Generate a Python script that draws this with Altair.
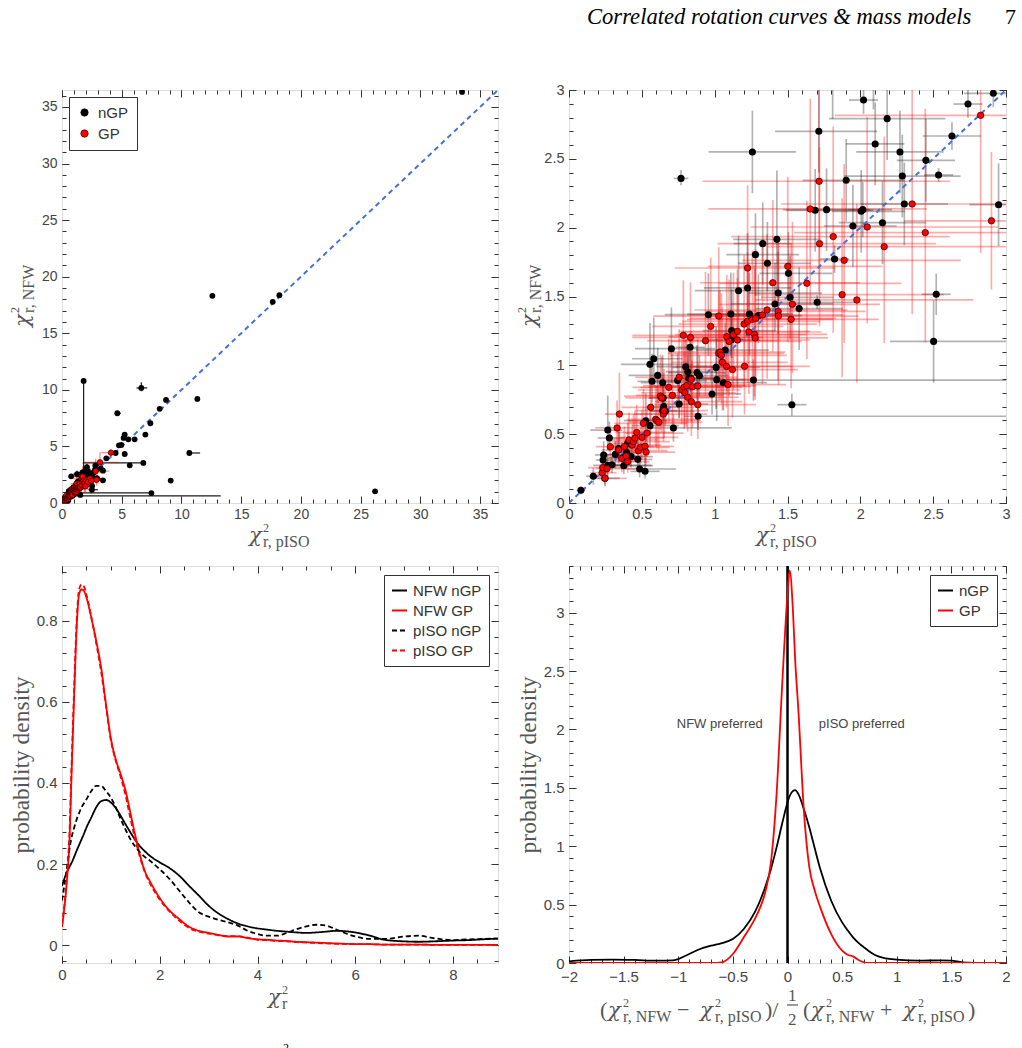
import altair as alt
import pandas as pd

# ------------------------------------------------------------------
# Reduced chi^2 of pISO (x) and NFW (y) fits, nGP galaxies
# errors are given as lower / upper offsets
# ------------------------------------------------------------------
NGP_X = [0.082, 0.167, 0.266, 0.277, 0.238, 0.234, 0.247, 0.266, 0.295, 0.318,
         0.341, 0.371, 0.376, 0.396, 0.403, 0.426, 0.472, 0.485, 0.522, 0.527,
         0.556, 0.556, 0.570, 0.582, 0.609, 0.643, 0.646, 0.650, 0.643, 0.662,
         0.703, 0.717, 0.746, 0.756, 0.769, 0.801, 0.815, 0.822, 0.831, 0.836,
         0.886, 0.879, 0.895, 0.957, 0.982, 1.010, 1.014, 1.060, 1.072, 1.111,
         1.117, 1.113, 1.164, 1.226, 1.239, 1.259, 1.266, 1.280, 1.300, 1.330,
         1.362, 1.414, 1.427, 1.436, 1.507, 1.518, 1.530, 1.580, 1.690, 1.704,
         1.715, 1.768, 1.823, 1.903, 1.949, 2.006, 2.017, 2.022, 2.102, 2.152,
         2.184, 2.272, 2.288, 2.302, 2.450, 2.503, 2.521, 2.537, 2.629, 2.739,
         2.913, 2.949,
         2.09, 2.79, 3.43, 3.43, 3.71, 3.25, 4.49, 4.77, 4.97, 5.16,
         5.25, 5.25, 5.55, 6.08, 5.67, 6.81, 6.98, 7.40, 7.48, 4.63,
         8.18, 8.71, 9.10, 6.64, 1.81, 10.66, 11.33, 12.59, 17.64, 18.20,
         26.21, 33.49]
NGP_Y = [0.092, 0.194, 0.530, 0.472, 0.349, 0.312, 0.179, 0.274, 0.278, 0.353,
         0.395, 0.329, 0.271, 0.366, 0.433, 0.337, 0.317, 0.247, 0.230, 0.598,
         0.562, 1.007, 0.884, 1.048, 0.927, 0.874, 0.763, 0.700, 0.671, 0.666,
         1.121, 0.545, 0.889, 0.719, 2.358, 0.990, 0.954, 0.906, 1.131, 0.906,
         0.630, 0.947, 0.925, 1.368, 0.792, 0.985, 0.896, 0.874, 1.111, 1.373,
         1.252, 1.184, 1.542, 1.562, 1.373, 2.550, 0.893, 1.804, 1.361, 1.884,
         1.741, 1.446, 1.915, 1.525, 1.668, 1.494, 0.714, 1.412, 2.126, 1.458,
         2.700, 2.131, 1.772, 2.344, 2.012, 2.119, 2.131, 2.927, 2.608, 2.036,
         2.792, 2.550, 2.375, 2.172, 2.489, 1.174, 1.516, 2.383, 2.666, 2.898,
         2.976, 2.167,
         3.16, 3.30, 2.86, 2.00, 3.95, 3.05, 4.42, 5.10, 5.13, 5.75,
         6.05, 4.33, 5.63, 5.63, 3.33, 3.54, 6.05, 7.05, 0.88, 7.93,
         8.32, 9.11, 1.98, 10.17, 10.79, 4.42, 9.20, 18.31, 17.78, 18.37,
         1.03, 36.33]
NGP_XLO = [0.03, 0.05, 0.12, 0.08, 0.06, 0.05, 0.05, 0.10, 0.06, 0.10,
           0.08, 0.10, 0.06, 0.08, 0.10, 0.06, 0.10, 0.08, 0.10, 0.15,
           0.12, 0.20, 0.10, 0.15, 0.20, 0.15, 0.10, 0.10, 0.08, 0.10,
           0.25, 0.15, 0.15, 0.10, 0.05, 0.20, 0.15, 0.10, 0.10, 0.10,
           0.10, 0.20, 0.15, 0.30, 0.20, 0.30, 0.20, 0.20, 0.20, 0.30,
           0.20, 0.15, 0.30, 0.30, 0.30, 0.30, 0.20, 0.20, 0.20, 0.20,
           0.20, 0.30, 0.30, 0.20, 0.20, 0.20, 0.10, 0.30, 0.20, 0.30,
           0.30, 0.30, 0.10, 0.30, 0.20, 0.20, 0.10, 0.10, 0.20, 0.30,
           0.40, 0.30, 0.40, 0.30, 0.20, 0.30, 0.10, 0.10, 0.20, 0.10,
           0.20, 0.20,
           0.2, 0.2, 0.2, 0.2, 0.2, 0.2, 0.1, 0.1, 0.1, 0.1,
           0.1, 0.1, 0.1, 0.1, 0.1, 5.08, 0.1, 0.1, 0.1, 0.2,
           0.1, 0.1, 0.1, 0.4, 0.05, 0.05, 0.1, 0.2, 0.1, 0.1,
           0.2, 0.1]
NGP_XHI = [0.03, 0.08, 0.10, 0.10, 0.20, 0.10, 0.10, 0.30, 0.10, 0.12,
           0.15, 0.12, 0.20, 0.10, 0.10, 0.15, 0.10, 0.25, 0.10, 0.15,
           0.20, 0.30, 0.20, 0.20, 0.25, 0.20, 0.15, 0.10, 0.10, 0.20,
           0.30, 0.40, 0.20, 0.20, 0.05, 0.20, 0.20, 0.20, 0.10, 0.15,
           12.40, 0.20, 0.20, 0.30, 0.20, 0.30, 0.20, 0.30, 0.30, 0.40,
           0.30, 0.20, 0.30, 0.30, 0.30, 0.30, 6.20, 0.30, 0.30, 0.20,
           0.30, 0.40, 0.30, 0.30, 0.30, 0.30, 0.10, 0.30, 0.40, 0.30,
           0.40, 0.30, 0.10, 0.40, 0.30, 0.30, 0.20, 0.10, 0.20, 0.30,
           0.40, 0.30, 0.40, 0.30, 0.20, 0.50, 0.10, 0.10, 0.20, 0.10,
           0.20, 0.30,
           0.2, 0.3, 0.2, 0.2, 0.2, 0.2, 0.1, 0.1, 0.1, 0.1,
           0.1, 0.1, 0.1, 0.1, 0.1, 0.1, 0.1, 0.1, 0.1, 0.3,
           0.1, 0.1, 0.1, 0.5, 0.05, 0.9, 0.1, 0.2, 0.1, 0.1,
           0.2, 0.1]
NGP_YLO = [0.03, 0.06, 0.15, 0.10, 0.08, 0.08, 0.05, 0.08, 0.06, 0.10,
           0.10, 0.08, 0.06, 0.10, 0.10, 0.08, 0.08, 0.06, 0.05, 0.15,
           0.15, 0.25, 0.20, 0.20, 0.20, 0.15, 0.10, 0.10, 0.10, 0.10,
           0.25, 0.10, 0.20, 0.10, 0.05, 0.20, 0.15, 0.10, 0.10, 0.10,
           0.10, 0.20, 0.15, 0.30, 0.15, 0.30, 0.30, 0.20, 0.20, 0.30,
           0.20, 0.20, 0.30, 0.30, 0.30, 0.30, 0.15, 0.30, 0.20, 0.30,
           0.20, 0.20, 0.40, 0.30, 0.20, 0.30, 0.08, 0.30, 0.30, 0.05,
           0.30, 0.30, 0.10, 0.30, 0.30, 0.30, 0.20, 0.10, 0.30, 0.30,
           0.30, 0.30, 0.30, 0.30, 0.30, 0.30, 0.15, 0.05, 0.10, 0.10,
           0.10, 0.30,
           0.3, 0.3, 0.2, 0.2, 0.2, 0.2, 0.1, 0.1, 0.1, 0.1,
           0.1, 0.1, 0.1, 0.1, 0.1, 0.1, 0.1, 0.1, 0.1, 0.1,
           0.1, 0.1, 0.1, 0.3, 8.0, 0.05, 0.1, 0.1, 0.1, 0.1,
           0.1, 0.1]
NGP_YHI = [0.03, 0.06, 0.25, 0.12, 0.10, 0.08, 0.05, 0.08, 0.06, 0.10,
           0.12, 0.10, 0.08, 0.10, 0.15, 0.10, 0.15, 0.08, 0.10, 0.20,
           0.15, 0.30, 0.20, 0.30, 0.20, 0.20, 0.15, 0.10, 0.10, 0.15,
           0.30, 0.10, 0.20, 0.15, 0.06, 0.20, 0.20, 0.20, 0.10, 0.10,
           0.10, 0.20, 0.15, 0.30, 0.20, 0.30, 0.30, 0.20, 0.20, 0.30,
           0.30, 0.20, 0.40, 0.40, 0.30, 0.30, 0.15, 0.30, 0.30, 0.30,
           0.30, 0.30, 0.50, 0.30, 0.30, 0.30, 0.08, 0.30, 0.30, 0.05,
           0.30, 0.30, 0.10, 0.30, 0.30, 0.30, 0.20, 0.20, 0.30, 0.30,
           0.30, 0.30, 0.30, 0.30, 0.30, 0.30, 0.15, 0.05, 0.10, 0.20,
           0.10, 0.30,
           0.3, 0.3, 0.2, 0.2, 0.2, 0.2, 0.1, 0.1, 0.1, 0.1,
           0.1, 0.1, 0.1, 0.1, 0.1, 0.1, 0.1, 0.1, 0.1, 0.1,
           0.1, 0.1, 0.1, 0.5, 0.05, 0.05, 0.1, 0.1, 0.1, 0.1,
           0.1, 0.1]

# ------------------------------------------------------------------
# Same quantities for the GP galaxies
# ------------------------------------------------------------------
GP_X = [0.227, 0.231, 0.247, 0.261, 0.284, 0.330, 0.346, 0.341, 0.362, 0.380,
        0.392, 0.403, 0.412, 0.433, 0.442, 0.453, 0.465, 0.476, 0.492, 0.501,
        0.511, 0.522, 0.529, 0.536, 0.561, 0.595, 0.604, 0.616, 0.627, 0.636,
        0.648, 0.653, 0.685, 0.710, 0.756, 0.774, 0.785, 0.790, 0.795, 0.808,
        0.815, 0.834, 0.840, 0.840, 0.847, 0.884, 0.884, 0.937, 0.973, 1.028,
        1.028, 1.037, 1.046, 1.053, 1.081, 1.092, 1.083, 1.099, 1.122, 1.129,
        1.156, 1.156, 1.202, 1.205, 1.226, 1.226, 1.235, 1.259, 1.273, 1.278,
        1.282, 1.328, 1.360, 1.399, 1.436, 1.438, 1.502, 1.525, 1.534, 1.633,
        1.656, 1.717, 1.720, 1.814, 1.875, 1.889, 1.976, 2.047, 2.164, 2.356,
        2.446, 2.826, 3.18, 4.10, 2.90]
GP_Y = [0.220, 0.257, 0.179, 0.249, 0.409, 0.545, 0.646, 0.385, 0.324, 0.409,
        0.341, 0.300, 0.458, 0.421, 0.446, 0.472, 0.513, 0.380, 0.404, 0.477,
        0.579, 0.412, 0.370, 0.508, 0.695, 0.608, 0.598, 0.586, 0.777, 0.763,
        0.646, 0.671, 0.840, 0.782, 0.913, 0.821, 1.218, 0.840, 0.801, 0.852,
        0.768, 1.203, 0.898, 0.736, 0.845, 0.850, 0.714, 1.179, 1.283, 1.358,
        1.087, 1.097, 1.073, 1.022, 0.993, 0.860, 1.208, 1.174, 0.969, 1.223,
        1.247, 1.184, 1.300, 0.993, 1.707, 1.320, 1.242, 1.334, 1.225, 1.199,
        1.341, 1.366, 1.402, 1.600, 1.392, 1.358, 1.719, 1.334, 1.443, 1.596,
        2.136, 2.337, 1.884, 1.935, 1.513, 1.763, 1.475, 2.005, 1.862, 2.172,
        1.964, 2.816, 3.60, 4.45, 2.05]
GP_XLO = [0.08, 0.10, 0.06, 0.08, 0.10, 0.15, 0.10, 0.10, 0.10, 0.12,
          0.10, 0.10, 0.15, 0.12, 0.15, 0.15, 0.15, 0.12, 0.15, 0.15,
          0.20, 0.15, 0.12, 0.15, 0.20, 0.20, 0.20, 0.20, 0.25, 0.25,
          0.20, 0.20, 0.25, 0.25, 0.30, 0.30, 0.35, 0.30, 0.30, 0.30,
          0.25, 0.40, 0.30, 0.25, 0.30, 0.30, 0.30, 0.40, 0.40, 0.45,
          0.35, 0.35, 0.35, 0.35, 0.35, 0.30, 0.40, 0.40, 0.35, 0.40,
          0.40, 0.40, 0.45, 0.40, 0.50, 0.45, 0.45, 0.45, 0.45, 0.45,
          0.45, 0.50, 0.50, 0.50, 0.50, 0.50, 0.55, 0.50, 0.50, 0.60,
          0.70, 0.80, 0.70, 0.70, 0.60, 0.70, 0.70, 0.80, 0.80, 0.90,
          0.90, 1.00, 1.40, 0.80, 0.60]
GP_XHI = [0.10, 0.15, 0.15, 0.20, 0.20, 0.25, 0.30, 0.20, 0.15, 0.20,
          0.15, 0.15, 0.20, 0.20, 0.25, 0.20, 0.25, 0.20, 0.20, 0.25,
          0.30, 0.20, 0.20, 0.25, 0.30, 0.30, 0.30, 0.30, 0.35, 0.35,
          0.30, 0.30, 0.35, 0.35, 0.40, 0.40, 0.40, 0.40, 0.35, 0.40,
          0.35, 0.50, 0.40, 0.35, 0.40, 0.40, 0.40, 0.50, 0.50, 0.50,
          0.45, 0.45, 0.45, 0.45, 0.45, 0.40, 0.50, 0.50, 0.45, 0.50,
          0.50, 0.50, 0.50, 0.45, 0.60, 0.50, 0.50, 0.55, 0.50, 0.50,
          0.55, 0.55, 0.55, 0.60, 0.60, 0.55, 0.65, 0.60, 0.60, 0.65,
          0.80, 0.90, 0.80, 0.80, 0.70, 0.80, 0.80, 0.90, 0.90, 1.00,
          1.00, 1.10, 1.60, 0.30, 0.80]
GP_YLO = [0.06, 0.08, 0.06, 0.08, 0.12, 0.15, 0.20, 0.10, 0.10, 0.12,
          0.10, 0.08, 0.15, 0.12, 0.15, 0.15, 0.15, 0.10, 0.12, 0.15,
          0.20, 0.12, 0.10, 0.15, 0.20, 0.20, 0.20, 0.20, 0.25, 0.25,
          0.20, 0.20, 0.25, 0.25, 0.30, 0.25, 0.35, 0.30, 0.25, 0.30,
          0.25, 0.40, 0.30, 0.25, 0.30, 0.30, 0.25, 0.40, 0.40, 0.45,
          0.35, 0.35, 0.35, 0.35, 0.30, 0.30, 0.40, 0.40, 0.35, 0.40,
          0.40, 0.40, 0.45, 0.35, 0.50, 0.45, 0.45, 0.45, 0.45, 0.45,
          0.45, 0.50, 0.50, 0.50, 0.50, 0.50, 0.55, 0.50, 0.50, 0.55,
          0.70, 0.80, 0.60, 0.70, 0.60, 0.60, 0.60, 0.70, 0.70, 0.80,
          0.80, 1.00, 1.00, 0.30, 0.50]
GP_YHI = [0.08, 0.10, 0.06, 0.10, 0.15, 0.20, 0.30, 0.15, 0.12, 0.15,
          0.12, 0.10, 0.20, 0.15, 0.20, 0.20, 0.20, 0.15, 0.15, 0.20,
          0.25, 0.15, 0.15, 0.20, 0.30, 0.25, 0.25, 0.25, 0.30, 0.30,
          0.30, 0.30, 0.35, 0.30, 0.35, 0.35, 0.40, 0.35, 0.30, 0.35,
          0.30, 0.40, 0.35, 0.30, 0.35, 0.35, 0.30, 0.50, 0.50, 0.50,
          0.45, 0.45, 0.45, 0.40, 0.40, 0.35, 0.45, 0.45, 0.40, 0.45,
          0.45, 0.45, 0.50, 0.40, 0.60, 0.50, 0.50, 0.50, 0.50, 0.50,
          0.50, 0.55, 0.55, 0.60, 0.55, 0.55, 0.65, 0.55, 0.60, 0.60,
          0.80, 0.90, 0.70, 0.80, 0.70, 0.70, 0.70, 0.80, 0.80, 0.90,
          0.90, 1.10, 0.90, 0.30, 0.50]

# ------------------------------------------------------------------
# Probability densities of chi^2_r
# ------------------------------------------------------------------
DENS_X = [0, 0.1, 0.15, 0.2, 0.25, 0.3, 0.35, 0.4, 0.45, 0.5, 0.6, 0.7, 0.8, 0.9,
          1.0, 1.1, 1.2, 1.3, 1.4, 1.5, 1.6, 1.7, 1.8, 2.0, 2.2, 2.4, 2.6, 2.8,
          3.0, 3.2, 3.4, 3.6, 3.8, 4.0, 4.2, 4.4, 4.6, 4.8, 5.0, 5.2, 5.4, 5.6,
          5.8, 6.0, 6.3, 6.6, 7.0, 7.3, 7.6, 8.0, 8.3, 8.6, 8.92]
DENS_NFW_NGP = [0.146, 0.18, 0.192, 0.204, 0.218, 0.233, 0.247, 0.261, 0.275, 0.29,
                0.315, 0.34, 0.355, 0.358, 0.352, 0.338, 0.319, 0.298, 0.278, 0.259,
                0.243, 0.231, 0.220, 0.204, 0.19, 0.171, 0.146, 0.122, 0.097, 0.078,
                0.064, 0.053, 0.046, 0.041, 0.038, 0.035, 0.033, 0.031, 0.030, 0.031,
                0.033, 0.035, 0.034, 0.031, 0.023, 0.013, 0.009, 0.008, 0.009, 0.011,
                0.012, 0.014, 0.016]
DENS_NFW_GP = [0.044, 0.159, 0.249, 0.438, 0.619, 0.784, 0.866, 0.878, 0.874, 0.858,
               0.808, 0.751, 0.685, 0.594, 0.51, 0.458, 0.422, 0.381, 0.326, 0.27,
               0.22, 0.181, 0.157, 0.116, 0.085, 0.064, 0.045, 0.035, 0.030, 0.025,
               0.021, 0.021, 0.017, 0.014, 0.013, 0.011, 0.010, 0.008, 0.007, 0.006,
               0.005, 0.004, 0.003, 0.002, 0.002, 0.001, 0.001, 0.001, 0.0005, 0.0005,
               0.0003, 0.0003, 0.0003]
DENS_PISO_NGP = [0.11, 0.19, 0.235, 0.268, 0.29, 0.31, 0.326, 0.34, 0.35, 0.36,
                 0.38, 0.393, 0.393, 0.38, 0.364, 0.34, 0.311, 0.285, 0.261, 0.243,
                 0.228, 0.217, 0.208, 0.187, 0.163, 0.134, 0.105, 0.081, 0.07, 0.062,
                 0.056, 0.048, 0.035, 0.027, 0.023, 0.023, 0.030, 0.039, 0.046, 0.050,
                 0.048, 0.039, 0.029, 0.021, 0.015, 0.015, 0.021, 0.023, 0.017, 0.012,
                 0.014, 0.015, 0.016]
DENS_PISO_GP = [0.05, 0.17, 0.27, 0.46, 0.64, 0.80, 0.878, 0.89, 0.885, 0.865,
                0.81, 0.745, 0.675, 0.59, 0.505, 0.455, 0.415, 0.37, 0.312, 0.26,
                0.215, 0.178, 0.152, 0.112, 0.083, 0.06, 0.042, 0.033, 0.028, 0.024,
                0.022, 0.022, 0.018, 0.013, 0.012, 0.010, 0.009, 0.007, 0.006, 0.005,
                0.004, 0.003, 0.003, 0.002, 0.002, 0.001, 0.001, 0.001, 0.0005, 0.0005,
                0.0003, 0.0003, 0.0003]
DENS_SERIES = ["NFW nGP", "NFW GP", "pISO nGP", "pISO GP"]

# ------------------------------------------------------------------
# Probability densities of the relative chi^2_r difference
# ------------------------------------------------------------------
DIFF_X = [-2, -1.8, -1.6, -1.4, -1.2, -1.05, -1.0, -0.9, -0.8, -0.7, -0.6, -0.5,
          -0.4, -0.3, -0.25, -0.2, -0.15, -0.1, -0.05, 0.0, 0.02, 0.05, 0.07, 0.1,
          0.15, 0.2, 0.25, 0.3, 0.4, 0.5, 0.55, 0.6, 0.65, 0.7, 0.75, 0.8, 0.9,
          1.0, 1.2, 1.4, 1.5, 1.6, 1.8, 2.0]
DIFF_NGP = [0.014, 0.026, 0.029, 0.026, 0.02, 0.022, 0.034, 0.077, 0.12, 0.148, 0.171, 0.205,
            0.291, 0.433, 0.535, 0.662, 0.81, 0.99, 1.19, 1.375, 1.43, 1.474, 1.48, 1.446,
            1.317, 1.161, 0.98, 0.804, 0.533, 0.348, 0.28, 0.22, 0.172, 0.134, 0.098, 0.068,
            0.040, 0.029, 0.02, 0.023, 0.02, 0.006, 0.001, 0.0]
DIFF_GP = [0, 0, 0, 0, 0, 0, 0, 0, 0, 0, 0.006, 0.077,
           0.22, 0.376, 0.476, 0.619, 0.875, 1.446, 2.358, 3.157, 3.362, 3.014, 2.6, 2.159,
           1.303, 0.818, 0.619, 0.476, 0.248, 0.106, 0.071, 0.057, 0.026, 0.006, 0, 0,
           0, 0, 0, 0, 0, 0, 0, 0]
DIFF_NOTES = ["NFW preferred", "pISO preferred"]
DIFF_NOTE_X = [-0.62, 0.68]
DIFF_NOTE_Y = [2.05, 2.05]

# ------------------------------------------------------------------
# styling
# ------------------------------------------------------------------
SANS = "Liberation Sans"
SERIF = "Liberation Serif"
GREEK = "DejaVu Serif"
TICK_COLOR = "#333"
TITLE_COLOR = "#555"
BLUE = "#4470dc"


def table(xs, ys, xlo, xhi, ylo, yhi, grp):
    return pd.DataFrame({
        "x": xs, "y": ys,
        "x_lo": [v - e for v, e in zip(xs, xlo)],
        "x_hi": [v + e for v, e in zip(xs, xhi)],
        "y_lo": [v - e for v, e in zip(ys, ylo)],
        "y_hi": [v + e for v, e in zip(ys, yhi)],
        "grp": grp,
    })


ngp = table(NGP_X, NGP_Y, NGP_XLO, NGP_XHI, NGP_YLO, NGP_YHI, "nGP")
gp = table(GP_X, GP_Y, GP_XLO, GP_XHI, GP_YLO, GP_YHI, "GP")


def lin(dom):
    return alt.Scale(domain=list(dom), nice=False, zero=False)


def frame(xdom, ydom, w, h, xmaj, ymaj, xmin, ymin, label_size, xpad=4):
    """Box with inward major/minor ticks on all four sides plus tick labels."""
    corners = pd.DataFrame({"fx": list(xdom), "fy": list(ydom)})

    def guide(xaxis, yaxis):
        return alt.Chart(corners).mark_point(opacity=0).encode(
            x=alt.X("fx:Q", scale=lin(xdom), axis=xaxis),
            y=alt.Y("fy:Q", scale=lin(ydom), axis=yaxis))

    lab = dict(ticks=False, domain=False, grid=False, title=None, format="~g",
               labelFont=SANS, labelFontSize=label_size, labelColor="#444",
               labelFlush=False, labelOverlap=False, labelBound=False)

    def tk(values, size, orient, offset):
        return alt.Axis(orient=orient, offset=offset, values=values, tickSize=size,
                        tickColor=TICK_COLOR, tickWidth=1, labels=False,
                        domain=False, grid=False, title=None)

    return [
        guide(alt.Axis(orient="bottom", values=xmaj, labelPadding=xpad, **lab),
              alt.Axis(orient="left", values=ymaj, labelPadding=5, **lab)),
        guide(tk(xmaj, 7, "top", -h), tk(ymaj, 7, "right", -w)),
        guide(tk(xmaj, 7, "bottom", -h), tk(ymaj, 7, "left", -w)),
        guide(tk(xmin, 4, "top", -h), tk(ymin, 4, "right", -w)),
        guide(tk(xmin, 4, "bottom", -h), tk(ymin, 4, "left", -w)),
    ]


def runs(rows, italic=False, align="left", color=TITLE_COLOR, font=SERIF):
    df = pd.DataFrame(rows, columns=["t", "px", "py", "fs", "ang"])
    return alt.Chart(df).mark_text(
        align=align, baseline="alphabetic", font=font,
        fontStyle="italic" if italic else "normal", color=color
    ).encode(
        x=alt.X("px:Q", scale=None), y=alt.Y("py:Q", scale=None), text="t:N",
        size=alt.Size("fs:Q", scale=None), angle=alt.Angle("ang:Q", scale=None))


def chi_h(x0, base, sub, gap=14):
    return ([("χ", x0, base, 21, 0)],
            [("2", x0 + gap, base - 10, 12, 0), (sub, x0 + gap, base + 5, 16, 0)])


def chi_v(xb, y0, sub, gap=14):
    return ([("χ", xb, y0, 21, 270)],
            [("2", xb - 10, y0 - gap, 12, 270), (sub, xb + 5, y0 - gap, 16, 270)])


def chi_layers(it, up):
    return [runs(it, italic=True, font=GREEK), runs(up)]


def steps(a, b, d):
    n = int(round((b - a) / d))
    return [round(a + i * d, 4) for i in range(n + 1)]


# ------------------------------------------------------------------
# scatter panels
# ------------------------------------------------------------------
def scatter_panel(lim, w, h, maj, mnr, fs, bar_w, ngp_bar, gp_bar, size_n, size_g, legend, extra):
    sx, sy = lin((0, lim)), lin((0, lim))
    layers = frame((0, lim), (0, lim), w, h, maj, maj, mnr, mnr, fs)
    for df, (col, op) in ((ngp, ngp_bar), (gp, gp_bar)):
        layers.append(alt.Chart(df).mark_rule(color=col, opacity=op, strokeWidth=bar_w, clip=True).encode(
            x=alt.X("x_lo:Q", scale=sx, axis=None), x2="x_hi:Q",
            y=alt.Y("y:Q", scale=sy, axis=None)))
        layers.append(alt.Chart(df).mark_rule(color=col, opacity=op, strokeWidth=bar_w, clip=True).encode(
            x=alt.X("x:Q", scale=sx, axis=None),
            y=alt.Y("y_lo:Q", scale=sy, axis=None), y2="y_hi:Q"))
    layers.append(alt.Chart(pd.DataFrame({"x": [0, lim], "y": [0, lim]})).mark_line(
        color=BLUE, strokeDash=[5, 4], strokeWidth=2, clip=True).encode(
        x=alt.X("x:Q", scale=sx, axis=None), y=alt.Y("y:Q", scale=sy, axis=None)))
    cs = alt.Scale(domain=["nGP", "GP"], range=["black", "red"])
    layers.append(alt.Chart(ngp).mark_circle(size=size_n, opacity=1, clip=True).encode(
        x=alt.X("x:Q", scale=sx, axis=None), y=alt.Y("y:Q", scale=sy, axis=None),
        color=alt.Color("grp:N", scale=cs, legend=legend)))
    layers.append(alt.Chart(gp).mark_circle(size=size_g, opacity=1, clip=True,
                                            stroke="#2a0000", strokeWidth=0.7).encode(
        x=alt.X("x:Q", scale=sx, axis=None), y=alt.Y("y:Q", scale=sy, axis=None),
        color=alt.Color("grp:N", scale=cs, legend=legend)))
    it_x, up_x = chi_h(187, 452, "r, pISO")
    it_y, up_y = chi_v(-33, 237, "r, NFW")
    layers += chi_layers(it_x + it_y, up_x + up_y)
    layers += extra
    return alt.layer(*layers).properties(width=w, height=h).resolve_axis(
        x="independent", y="independent")


scatter_legend = alt.Legend(
    orient="top-left", title=None, offset=7, padding=8, strokeColor="#333",
    fillColor="white", labelFont=SANS, labelFontSize=15, labelColor="#333",
    symbolType="circle", symbolSize=55, symbolStrokeColor="#2a0000",
    symbolStrokeWidth=0.7, rowPadding=5, labelOffset=6, cornerRadius=0)

header = [
    runs([("Correlated rotation curves & mass models", 18, -66, 22.6, 0)], italic=True, color="black"),
    runs([("7", 436, -66, 22, 0)], color="black"),
]

p1 = scatter_panel(36.5, 436, 413, steps(0, 35, 5), steps(0, 36, 1), 14, 1.2,
                   ("black", 0.9), ("red", 0.5), 34, 30, scatter_legend, [])
p2 = scatter_panel(3, 437, 413, steps(0, 3, 0.5), steps(0, 3, 0.1), 14.5, 1.7,
                   ("black", 0.3), ("red", 0.33), 50, 42, None, header)

# ------------------------------------------------------------------
# density of chi^2_r
# ------------------------------------------------------------------
line_legend = dict(title=None, offset=9, padding=7, strokeColor="#333", fillColor="white",
                   labelFont=SANS, labelFontSize=15, labelColor="#333",
                   symbolType="stroke", symbolStrokeWidth=2, symbolSize=225,
                   rowPadding=3, labelOffset=5, cornerRadius=0, orient="top-right")

dens = pd.concat([
    pd.DataFrame({"x": DENS_X, "d": vals, "series": name})
    for name, vals in zip(DENS_SERIES, [DENS_NFW_NGP, DENS_NFW_GP, DENS_PISO_NGP, DENS_PISO_GP])
])
X3, Y3 = (0, 8.92), (-0.0444, 0.9357)
leg3 = alt.Legend(**line_legend)
p3_layers = frame(X3, Y3, 436, 397, steps(0, 8, 2), steps(0, 0.8, 0.2),
                  steps(0, 8.5, 0.5), steps(-0.04, 0.92, 0.04), 15)
p3_layers.append(alt.Chart(dens).mark_line(strokeWidth=1.8, clip=True, interpolate="monotone").encode(
    x=alt.X("x:Q", scale=lin(X3), axis=None),
    y=alt.Y("d:Q", scale=lin(Y3), axis=None),
    color=alt.Color("series:N", scale=alt.Scale(domain=DENS_SERIES, range=["black", "red", "black", "red"]),
                    legend=leg3),
    strokeDash=alt.StrokeDash("series:N", scale=alt.Scale(
        domain=DENS_SERIES, range=[[1, 0], [1, 0], [5, 3], [5, 3]]), legend=leg3)))
it3, up3 = chi_h(206, 438, "r")
p3_layers += chi_layers(it3, up3)
p3_layers.append(runs([("probability density", -33, 199, 23.5, 270)], align="center"))
# first glyph of the caption line underneath, cut by the page edge
p3_layers.append(runs([("2", 221, 486, 12, 0)], color="black"))
p3 = alt.layer(*p3_layers).properties(width=436, height=397).resolve_axis(
    x="independent", y="independent")

# ------------------------------------------------------------------
# density of the relative difference
# ------------------------------------------------------------------
diff = pd.concat([
    pd.DataFrame({"x": DIFF_X, "d": DIFF_NGP, "sample": "nGP"}),
    pd.DataFrame({"x": DIFF_X, "d": DIFF_GP, "sample": "GP"}),
])
X4, Y4 = (-2, 2), (0, 3.4)
p4_layers = frame(X4, Y4, 437, 397, steps(-2, 2, 0.5), steps(0, 3, 0.5),
                  steps(-2, 2, 0.1), steps(0, 3.4, 0.1), 15, xpad=6)
p4_layers.append(alt.Chart(pd.DataFrame({"x": [0]})).mark_rule(color="black", strokeWidth=2.5).encode(
    x=alt.X("x:Q", scale=lin(X4), axis=None)))
p4_layers.append(alt.Chart(diff).mark_line(strokeWidth=1.8, clip=True, interpolate="monotone").encode(
    x=alt.X("x:Q", scale=lin(X4), axis=None),
    y=alt.Y("d:Q", scale=lin(Y4), axis=None),
    color=alt.Color("sample:N", scale=alt.Scale(domain=["nGP", "GP"], range=["black", "red"]),
                    legend=alt.Legend(**line_legend))))
p4_layers.append(alt.Chart(pd.DataFrame({"x": DIFF_NOTE_X, "y": DIFF_NOTE_Y, "t": DIFF_NOTES})).mark_text(
    font=SANS, fontSize=13, color="#444", baseline="middle").encode(
    x=alt.X("x:Q", scale=lin(X4), axis=None), y=alt.Y("y:Q", scale=lin(Y4), axis=None), text="t:N"))

it4, up4 = [], []
for x0, sub in ((39, "r, NFW"), (131, "r, pISO"), (242, "r, NFW"), (334, "r, pISO")):
    a, b = chi_h(x0, 451, sub, gap=15)
    it4 += a
    up4 += b
up4 += [("(", 31, 451, 22, 0), ("−", 108, 451, 22, 0), (")/", 196, 451, 22, 0),
        ("1", 219, 435, 17, 0), ("2", 219, 459, 17, 0), ("(", 234, 451, 22, 0),
        ("+", 311, 451, 22, 0), (")", 399, 451, 22, 0)]
p4_layers += chi_layers(it4, up4)
p4_layers += [runs([("probability density", -33, 199, 23.5, 270)], align="center"),
              alt.Chart(pd.DataFrame({"x": [0]})).mark_rule(color=TITLE_COLOR, strokeWidth=1.2).encode(
                  x=alt.value(218), x2=alt.value(229), y=alt.value(439))]
p4 = alt.layer(*p4_layers).properties(width=437, height=397).resolve_axis(
    x="independent", y="independent")

chart = alt.concat(
    p1, p2, p3, p4, columns=2, spacing={"row": 63, "column": 71}, bounds="flush"
).resolve_scale(
    color="independent", strokeDash="independent"
).properties(
    padding={"left": 8, "top": 5, "right": 5, "bottom": 5}
).configure_view(
    stroke="#444", strokeWidth=1
).configure(background="white")

chart.save("out.html", embed_options={"renderer": "svg", "actions": False})
